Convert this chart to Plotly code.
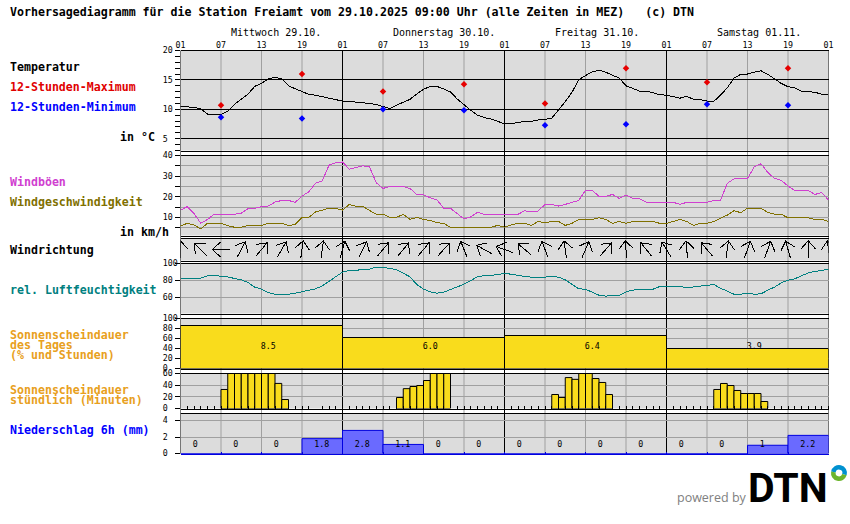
import math
import plotly.graph_objects as go

W, H = 850, 524
X0, X1 = 180.5, 828.5

# hour offsets from 01:00 on Wed 29.10.
hours = list(range(97))

temperature = [10.55, 10.45, 10.3, 10.1, 9.2, 9.15, 9.15, 9.7, 10.85, 11.7, 12.6, 13.9, 14.4, 15.2, 15.45, 15.2, 14.0,
               13.5, 13.0, 12.55, 12.4, 12.15, 11.9, 11.6, 11.4, 11.35, 11.25, 11.1, 11.0, 10.8, 10.5, 10.15, 10.7,
               11.25, 11.7, 12.6, 13.4, 13.9, 13.9, 13.45, 12.95, 11.75, 10.75, 9.85, 9.0, 8.6, 8.35, 7.95, 7.55,
               7.55, 7.8, 7.95, 7.95, 8.2, 8.3, 8.5, 9.9, 11.3, 12.9, 15.0, 15.75, 16.35, 16.65, 16.3, 15.8, 15.3,
               14.0, 13.5, 13.1, 13.1, 12.85, 12.5, 12.4, 12.15, 11.9, 12.2, 11.7, 11.65, 11.4, 11.35, 12.4, 13.65,
               15.3, 15.95, 16.0, 16.3, 16.55, 15.95, 15.2, 14.4, 13.85, 13.65, 13.1, 12.95, 12.9, 12.55, 12.5]

extreme_hours = [6, 18, 30, 42, 54, 66, 78, 90]
temp_max = [10.7, 16.0, 13.05, 14.25, 11.0, 17.0, 14.6, 17.0]
temp_min = [8.65, 8.45, 10.0, 9.85, 7.3, 7.45, 10.85, 10.7]

gusts = [13.5, 15.2, 11.9, 7.1, 9.0, 11.5, 11.5, 11.5, 11.5, 12.0, 14.2, 14.4, 15.2, 15.5, 17.4, 18.2, 18.2, 17.3,
         20.3, 22.4, 26.5, 27.7, 35.3, 36.5, 36.9, 33.4, 34.2, 35.0, 34.5, 26.8, 24.0, 25.0, 25.0, 25.0, 24.0, 21.1,
         21.0, 19.5, 18.5, 14.4, 14.4, 11.6, 9.2, 10.2, 12.4, 11.5, 11.5, 11.5, 11.5, 11.5, 11.5, 13.2, 12.6, 13.1,
         16.3, 16.3, 15.5, 16.3, 17.3, 18.2, 23.1, 23.1, 20.2, 20.2, 21.1, 19.2, 20.8, 19.2, 19.0, 17.3, 17.3, 17.3,
         17.3, 17.3, 16.3, 17.3, 17.3, 17.3, 17.3, 18.2, 18.2, 26.5, 28.7, 28.9, 28.9, 34.5, 36.0, 31.8, 28.9, 28.0,
         25.2, 23.1, 23.1, 23.1, 21.1, 22.1, 18.4]

wind_speed = [5.8, 7.1, 6.3, 4.4, 7.1, 7.1, 7.1, 6.0, 5.2, 5.2, 6.0, 6.0, 6.0, 7.1, 7.1, 7.1, 6.0, 6.6, 10.0, 10.0,
              12.6, 13.5, 14.4, 14.4, 13.5, 16.3, 15.3, 15.3, 13.5, 11.5, 11.5, 10.0, 10.0, 11.5, 9.0, 10.0, 9.0, 8.5,
              7.4, 7.1, 5.2, 5.2, 5.2, 5.2, 5.2, 5.2, 5.2, 6.1, 5.2, 6.3, 7.1, 7.1, 6.1, 8.0, 7.3, 8.0, 8.0, 6.1, 7.1,
              9.0, 9.0, 9.0, 9.8, 9.0, 7.1, 8.0, 7.1, 8.0, 8.0, 8.0, 8.0, 7.1, 7.1, 8.0, 9.0, 8.0, 6.1, 7.1, 7.1, 8.0,
              9.5, 11.1, 13.2, 12.3, 14.4, 14.4, 14.4, 12.4, 11.5, 11.5, 9.8, 9.8, 9.8, 9.8, 9.0, 9.0, 8.0]

# arrow heading in degrees clockwise from north, one every 3 hours
arrow_hours = list(range(0, 97, 3))
arrow_dir = [0, 315, 270, 28, 40, 30, 8, 8, 15, 27, 40, 40, 40, 42, 338, 299, 290, 310, 339, 352, 23, 41, 356, 321, 329,
             355, 320, 8, 20, 20, 344, 0, 352]

humidity = [82.7, 82.7, 82.7, 82.7, 85.5, 86.3, 85.0, 84.3, 82.4, 80.8, 77.6, 72.2, 69.8, 65.9, 63.9, 63.9, 63.9, 65.1,
            66.7, 69.0, 70.2, 73.7, 79.2, 84.7, 89.8, 91.8, 91.8, 93.3, 93.3, 95.7, 95.7, 94.1, 92.9, 88.6, 84.3, 75.3,
            69.8, 66.7, 65.1, 66.3, 69.0, 72.5, 75.7, 80.4, 84.3, 85.9, 86.3, 86.7, 88.6, 87.0, 85.9, 84.7, 83.9, 83.9,
            83.9, 85.0, 83.9, 80.8, 76.0, 70.2, 69.8, 66.7, 62.7, 61.6, 62.7, 62.7, 66.7, 68.6, 69.8, 69.8, 69.8, 72.9,
            73.3, 73.3, 73.3, 71.4, 72.2, 72.9, 74.5, 75.3, 71.0, 67.1, 63.9, 63.9, 65.1, 63.9, 64.3, 68.6, 72.2, 77.3,
            80.4, 82.0, 85.5, 89.0, 90.6, 92.2, 93.3]

day_starts = [0, 24, 48, 72]
day_names = ["Mittwoch 29.10.", "Donnerstag 30.10.", "Freitag 31.10.", "Samstag 01.11."]
sun_percent = [86, 62, 66, 40]
sun_hours = ["8.5", "6.0", "6.4", "3.9"]

sun_min_hours = [6, 7, 8, 9, 10, 11, 12, 13, 14, 15,
                 32, 33, 34, 35, 36, 37, 38, 39,
                 55, 56, 57, 58, 59, 60, 61, 62, 63,
                 79, 80, 81, 82, 83, 84, 85, 86]
sun_minutes = [32.6, 60, 60, 60, 60, 60, 60, 60, 43, 15.4,
               18.8, 34, 37.7, 39.4, 48, 60, 60, 60,
               24, 18.9, 53, 50, 60, 60, 51.4, 44.6, 24,
               32.6, 42.9, 39.4, 30.9, 25.7, 25.7, 25.7, 12]

precip_hours = list(range(0, 96, 6))
precip = [0, 0, 0, 1.8, 2.8, 1.1, 0, 0, 0, 0, 0, 0, 0, 0, 1.0, 2.2]
precip_labels = ["0", "0", "0", "1.8", "2.8", "1.1", "0", "0", "0", "0", "0", "0", "0", "0", "1", "2.2"]

top_tick_hours = list(range(0, 97, 6))
top_tick_labels = ["01", "07", "13", "19"] * 4 + ["01"]

logo_parts = [52, 48]

BLACK = "#000000"
GRID = "#a0a0a0"
PANEL = "#dcdcdc"
YELLOW = "#f9dc1c"
MAGENTA = "#d040d0"
OLIVE = "#807000"
TEAL = "#008080"
ORANGE = "#e8a020"
MONO = "DejaVu Sans Mono"
BOLD = "<b>%s</b>"


def fx(px):
    return px / W


def fy(py):
    return 1 - py / H


# top px, bottom px, y range, tick values, grid colour, minor step, minor grid
panels = [
    (50.5, 150.5, [3, 20], [5, 10, 15, 20], BLACK, 1, False),
    (155.5, 235.5, [1.2, 40], [10, 20, 30, 40], GRID, 5, True),
    (238.5, 260.5, [0, 1], [], GRID, None, False),
    (263.5, 313.5, [41.2, 100], [60, 80, 100], GRID, None, False),
    (318.5, 368.5, [0, 100], [0, 20, 40, 60, 80, 100], GRID, None, False),
    (373.5, 408.5, [0, 60], [0, 20, 40, 60], GRID, None, False),
    (413.5, 453.5, [0, 4.85], [0, 2, 4], GRID, None, False),
]

fig = go.Figure()
layout = dict(
    width=W, height=H, autosize=False,
    margin=dict(l=0, r=0, t=0, b=0),
    paper_bgcolor="white", plot_bgcolor=PANEL,
    showlegend=False,
    font=dict(family=MONO, size=8.3, color=BLACK),
)

for n, (top, bottom, yrange, yticks, gridcolor, minor_step, minor_grid) in enumerate(panels, start=1):
    xa = dict(
        domain=[fx(X0), fx(X1)], range=[0, 96], anchor="y%d" % n, automargin=False,
        showgrid=False, zeroline=False, showline=True, mirror=True,
        linecolor=BLACK, linewidth=1, showticklabels=False, ticks="",
    )
    ya = dict(
        domain=[fy(bottom), fy(top)], range=yrange, anchor="x%d" % n, automargin=False,
        zeroline=False, showline=False,
        tickmode="array", tickvals=yticks,
        ticktext=[("%d" % v).ljust(3, "\u00a0") for v in yticks],
        ticks="outside" if yticks else "", ticklen=5, tickcolor=BLACK, tickwidth=1,
        ticklabelstandoff=-5,
        showgrid=bool(yticks), gridcolor=gridcolor, gridwidth=1,
        tickfont=dict(family=MONO, size=8.3),
    )
    if minor_step:
        ya["minor"] = dict(dtick=minor_step, ticks="outside", ticklen=5, tickcolor=BLACK,
                           showgrid=minor_grid, gridcolor=gridcolor, gridwidth=1)
    layout["xaxis%d" % n] = xa
    layout["yaxis%d" % n] = ya

layout["xaxis1"].update(side="top", showticklabels=True, tickmode="array", tickvals=top_tick_hours,
                        ticktext=top_tick_labels, tickangle=0, ticklabelstandoff=-2,
                        tickfont=dict(family=MONO, size=8.3))
# little hour ticks on the zero line of the hourly sunshine panel
layout["xaxis6"].update(ticks="", minor=dict(dtick=1, tick0=0, ticks="inside", ticklen=3, tickcolor=BLACK))
# precipitation base line is blue, its top edge gets a black shape further down
layout["xaxis7"].update(mirror=False, linecolor="#0000e0", ticks="inside", tickmode="array",
                        tickvals=top_tick_hours, ticklen=2, tickcolor="#0000e0")

# temperature
fig.add_trace(go.Scatter(x=hours, y=temperature, mode="lines", line=dict(color=BLACK, width=1), xaxis="x1", yaxis="y1"))
fig.add_trace(go.Scatter(x=extreme_hours, y=temp_max, mode="markers", xaxis="x1", yaxis="y1",
                         marker=dict(symbol="diamond", size=5, color="#e60000")))
fig.add_trace(go.Scatter(x=extreme_hours, y=temp_min, mode="markers", xaxis="x1", yaxis="y1",
                         marker=dict(symbol="diamond", size=5, color="#0000ff")))

# wind
fig.add_trace(go.Scatter(x=hours, y=gusts, mode="lines", line=dict(color=MAGENTA, width=1), xaxis="x2", yaxis="y2"))
fig.add_trace(go.Scatter(x=hours, y=wind_speed, mode="lines", line=dict(color=OLIVE, width=1), xaxis="x2", yaxis="y2"))

# wind direction arrows, built in px and put back into axis units
px_per_hour = (X1 - X0) / 96
dir_height = panels[2][1] - panels[2][0]
arrow_x, arrow_y = [], []
for hour, heading in zip(arrow_hours, arrow_dir):
    a = math.radians(heading)
    tip = (8.7 * math.sin(a), 8.7 * math.cos(a))
    tail = (-tip[0], -tip[1])
    left = (tip[0] - 11 * math.sin(a - 0.73), tip[1] - 11 * math.cos(a - 0.73))
    right = (tip[0] - 11 * math.sin(a + 0.73), tip[1] - 11 * math.cos(a + 0.73))
    for p in (tail, tip, left, tip, right):
        arrow_x.append(hour + p[0] / px_per_hour)
        arrow_y.append(0.5 + p[1] / dir_height)
    arrow_x.append(None)
    arrow_y.append(None)
fig.add_trace(go.Scatter(x=arrow_x, y=arrow_y, mode="lines", line=dict(color=BLACK, width=1), cliponaxis=False,
                         xaxis="x3", yaxis="y3"))

# humidity
fig.add_trace(go.Scatter(x=hours, y=humidity, mode="lines", line=dict(color=TEAL, width=1), xaxis="x4", yaxis="y4"))

# sunshine per day
fig.add_trace(go.Bar(x=day_starts, y=sun_percent, width=24, offset=0, xaxis="x5", yaxis="y5",
                     marker=dict(color=YELLOW, line=dict(color=BLACK, width=1))))
fig.add_trace(go.Scatter(x=[d + 13 for d in day_starts], y=[43] * 4, mode="text", text=sun_hours,
                         textfont=dict(family=MONO, size=8.3, color=BLACK), xaxis="x5", yaxis="y5"))

# sunshine per hour
fig.add_trace(go.Bar(x=sun_min_hours, y=sun_minutes, width=1, offset=0, xaxis="x6", yaxis="y6",
                     marker=dict(color=YELLOW, line=dict(color=BLACK, width=1))))

# precipitation
fig.add_trace(go.Bar(x=precip_hours, y=precip, width=6, offset=0, xaxis="x7", yaxis="y7",
                     marker=dict(color="#6a6aff", line=dict(color="#0000e0", width=1))))
fig.add_trace(go.Scatter(x=[h + 1.8 for h in precip_hours], y=[1.03] * 16, mode="text", text=precip_labels,
                         textposition="middle right", textfont=dict(family=MONO, size=8.3, color=BLACK),
                         xaxis="x7", yaxis="y7"))

# logo ring
fig.add_trace(go.Pie(values=logo_parts, hole=0.42, sort=False, direction="clockwise", rotation=280,
                     textinfo="none", hoverinfo="skip",
                     marker=dict(colors=["#0091d0", "#6cb52d"], line=dict(width=0)),
                     domain=dict(x=[fx(831), fx(847)], y=[fy(481), fy(465)])))

# vertical lines run through the white gaps too, so they sit on the page and not in the panels
shapes = []
for hour in top_tick_hours:
    shapes.append(dict(type="line", layer="below", xref="x1", yref="paper", x0=hour, x1=hour,
                       y0=fy(453.5), y1=fy(50.5),
                       line=dict(color=BLACK if hour % 24 == 0 else GRID, width=1)))
shapes.append(dict(type="line", xref="x7", yref="y7 domain", x0=0, x1=96, y0=1, y1=1,
                   line=dict(color=BLACK, width=1)))
layout["shapes"] = shapes


def label(text, x, y, color=BLACK, bold=True, size=11.6, anchor="left", family=MONO):
    return dict(text=BOLD % text if bold else text, x=fx(x), y=fy(y), xref="paper", yref="paper",
                xanchor=anchor, yanchor="middle", showarrow=False, borderpad=0, borderwidth=0,
                font=dict(family=family, size=size, color=color))


annotations = [
    label("Vorhersagediagramm für die Station Freiamt vom 29.10.2025 09:00 Uhr (alle Zeiten in MEZ)\u00a0\u00a0\u00a0(c) DTN", 10, 12),
    label("Temperatur", 10, 67),
    label("12-Stunden-Maximum", 10, 87, "#e00000"),
    label("12-Stunden-Minimum", 10, 107, "#0000ff"),
    label("in °C", 120, 137),
    label("Windböen", 10, 182, MAGENTA),
    label("Windgeschwindigkeit", 10, 201.7, OLIVE),
    label("in km/h", 120, 231.7),
    label("Windrichtung", 10, 250),
    label("rel. Luftfeuchtigkeit", 10, 290, TEAL),
    label("Sonnenscheindauer", 10, 335.3, ORANGE),
    label("des Tages", 10, 345, ORANGE),
    label("(% und Stunden)", 10, 355, ORANGE),
    label("Sonnenscheindauer", 10, 390, ORANGE),
    label("stündlich (Minuten)", 10, 400, ORANGE),
    label("Niederschlag 6h (mm)", 10, 430, "#0000ff"),
    label("powered by", 677, 497, "#808080", bold=False, size=12.5, family="Open Sans"),
    label("DTN", 748, 488, BLACK, bold=True, size=41, family="Roboto"),
]
for start, name in zip(day_starts, day_names):
    annotations.append(label(name, X0 + start * px_per_hour + 50, 33, bold=False, size=10))
layout["annotations"] = annotations

fig.update_layout(**layout)

fig.write_html("out.html", config=dict(displayModeBar=False), post_script=(
    "document.body.style.margin='0';"
    "document.documentElement.style.overflow='hidden';"
    "var s=document.createElement('style');"
    "s.textContent='.js-line{shape-rendering:crispEdges}';"
    "document.head.appendChild(s);"
))
